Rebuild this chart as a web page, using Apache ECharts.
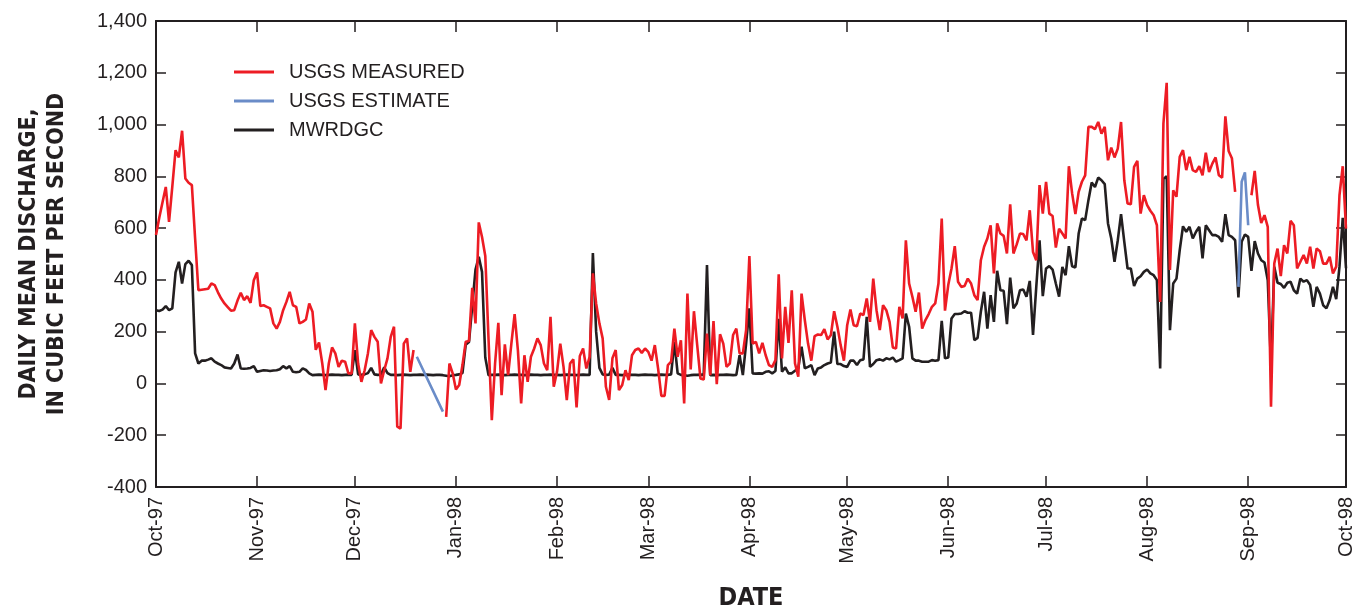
<!DOCTYPE html>
<html>
<head>
<meta charset="utf-8">
<script src="https://cdn.jsdelivr.net/npm/echarts@6/dist/echarts.min.js"></script>
<style>
html,body{margin:0;padding:0;background:#fff;}
#chart{width:1371px;height:611px;}
</style>
</head>
<body>
<div id="chart"></div>
<script>
// Tick labels (first day of each month, Oct-97 .. Oct-98)
const monthLabels = ['Oct-97','Nov-97','Dec-97','Jan-98','Feb-98','Mar-98','Apr-98','May-98','Jun-98','Jul-98','Aug-98','Sep-98','Oct-98'];
const yTicks = [-400,-200,0,200,400,600,800,1000,1200,1400];

// USGS MEASURED, daily mean discharge (cfs), one value per day from 1 Oct 1997
const usgsMeasured = [
  // Oct-97
  573,640,700,759,624,760,901,873,976,792, 775,766,560,360,362,364,366,386,380,352, 328,309,295,281,283,320,350,322,337,311, 399,
  // Nov-97
  429,299,302,296,290,232,212,238,283,315, 354,302,296,232,238,247,309,277,130,158, 77,-26,77,139,116,64,88,84,39,39,
  // Dec-97
  232,77,6,51,116,206,180,161,0,51, 97,180,219,-167,-174,154,174,45,129,null, null,null,null,null,null,null,null,null,-129,77, 39,
  // Jan-98
  -23,-6,71,161,164,369,232,622,566,492, 170,-142,77,234,-45,151,32,154,268,129, -77,109,6,103,135,174,148,77,51,257, -13,
  // Feb-98
  45,154,64,-64,77,93,-93,106,135,58, 103,425,309,232,174,-13,-64,97,129,-26, -6,51,13,109,129,135,118,135,
  // Mar-98
  122,88,148,58,-48,-48,71,84,212,103, 167,-77,347,54,279,148,19,15,193,32, 241,-3,190,154,64,77,187,212,116,116, 206,
  // Apr-98
  492,154,161,116,157,109,71,64,90,422, 97,296,157,360,77,26,347,245,154,88, 183,189,187,210,170,187,279,219,148,88,
  // May-98
  225,286,225,221,270,264,328,238,405,283, 206,302,283,238,139,135,296,251,553,386, 335,277,351,212,245,268,296,309,386,637, 281,
  // Jun-98
  380,444,530,393,373,376,405,386,341,322, 476,528,560,611,425,618,579,570,502,692, 502,537,579,577,553,669,508,476,766,656,
  // Jul-98
  779,656,647,525,598,579,560,839,734,654, 740,779,804,991,991,982,1010,965,991,862, 911,873,907,1010,785,695,692,837,860,656, 727,
  // Aug-98
  689,667,650,611,315,1004,1161,438,746,721, 875,901,824,875,824,817,839,804,891,817, 849,873,804,795,1032,898,870,740,null,null, null,
  // Sep-98
  null,727,821,689,620,650,605,-90,463,521, 415,534,502,628,611,444,470,496,463,528, 444,521,511,463,463,489,425,451,727,839,
  // Oct-98
  598
];

// MWRDGC, daily mean discharge (cfs)
const mwrdgc = [
  // Oct-97
  283,280,285,299,283,290,429,470,386,461, 474,457,116,77,88,88,92,97,84,77, 71,62,60,58,77,112,58,57,58,60, 67,
  // Nov-97
  45,48,51,50,48,50,51,55,67,58, 67,45,43,45,58,52,39,32,33,34, 33,32,33,34,33,33,32,33,34,33,
  // Dec-97
  129,35,33,35,40,60,35,33,34,62, 40,33,33,32,33,34,33,32,33,33, 34,33,34,33,32,33,33,32,30,28, 32,
  // Jan-98
  33,35,40,150,160,300,440,489,431,100, 32,33,33,34,33,32,33,33,34,33, 33,32,33,34,33,33,32,33,33,34, 33,
  // Feb-98
  33,32,33,34,33,33,32,33,34,33, 33,504,200,60,35,33,34,60,33,33, 32,33,34,33,33,32,33,34,
  // Mar-98
  33,33,32,33,34,33,33,35,161,39, 33,32,30,32,33,33,34,33,457,32, 33,32,33,33,34,33,32,33,109,32, 154,
  // Apr-98
  290,39,38,39,38,45,47,39,48,250, 45,62,39,39,49,58,142,58,64,71, 32,58,62,71,77,81,200,75,75,67,
  // May-98
  64,88,88,71,90,93,257,64,75,90, 93,88,97,93,100,84,90,97,270,219, 97,88,88,84,84,84,90,88,90,242, 97,
  // Jun-98
  100,251,268,268,270,279,273,273,167,176, 277,354,212,341,238,435,360,358,229,409, 290,309,360,363,335,396,187,373,553,337,
  // Jul-98
  444,453,440,386,335,450,418,530,453,448, 579,637,631,708,776,759,795,785,770,618, 560,470,553,654,547,444,444,376,405,414, 431,
  // Aug-98
  440,425,418,399,58,790,800,206,386,405, 515,607,586,605,560,586,605,483,611,592, 573,573,566,547,654,573,566,553,332,547, 575,
  // Sep-98
  566,435,550,502,476,467,399,67,451,389, 384,369,389,393,360,347,405,393,399,380, 296,373,347,302,290,322,373,326,451,640,
  // Oct-98
  445
];

// USGS ESTIMATE (two short periods): day offsets from 1 Oct 1997 and values
const estimateDaysDec = [80, 88];
const estimateDec = [103, -109];
const estimateDaysSep = [332, 333, 334, 335];
const estimateSep = [373, 779, 815, 611];

// ---- build ----
const startMs = Date.UTC(1997, 9, 1);
const monthDays = monthLabels.map((_, m) => Math.round((Date.UTC(1997, 9 + m, 1) - startMs) / 86400000));
const lastDay = monthDays[monthDays.length - 1];

const measuredData = usgsMeasured.map((v, d) => [d, v]);
const mwrdgcData = mwrdgc.map((v, d) => [d, v]);
const estimateData = estimateDaysDec.map((d, i) => [d, estimateDec[i]])
  .concat([[200, null]])
  .concat(estimateDaysSep.map((d, i) => [d, estimateSep[i]]));

const INK = '#231f20';
const FONT = "'Liberation Sans', Arial, sans-serif";
const NARROW = "'Liberation Sans Narrow', 'DejaVu Sans Condensed', 'Liberation Sans', sans-serif";

const chart = echarts.init(document.getElementById('chart'), null, {renderer: 'canvas'});

const xBase = {
  type: 'value', min: 0, max: lastDay,
  splitLine: {show: false},
  axisLine: {show: true, onZero: false, lineStyle: {color: INK, width: 2}},
  axisTick: {show: true, inside: true, length: 11, customValues: monthDays, lineStyle: {color: INK, width: 1.5}},
};
const yBase = {
  type: 'value', min: -400, max: 1400, interval: 200,
  splitLine: {show: false},
  axisLine: {show: true, onZero: false, lineStyle: {color: INK, width: 2}},
  axisTick: {show: true, inside: true, length: 10, lineStyle: {color: INK, width: 1.5}},
};

chart.setOption({
  animation: false,
  backgroundColor: '#fff',
  grid: {left: 156, right: 25, top: 21, bottom: 124, containLabel: false, outerBoundsMode: 'none'},
  legend: {
    orient: 'vertical', left: 234, top: 62, padding: 0,
    icon: 'rect', itemWidth: 40, itemHeight: 3, itemGap: 9,
    data: ['USGS MEASURED', 'USGS ESTIMATE', 'MWRDGC'],
    textStyle: {fontFamily: FONT, fontSize: 20, color: INK, lineHeight: 20, padding: [0, 0, 0, 10]}
  },
  xAxis: [
    Object.assign({}, xBase, {
      position: 'bottom',
      name: 'DATE', nameLocation: 'middle', nameGap: 99,
      nameTextStyle: {fontFamily: NARROW, fontWeight: 'bold', fontSize: 25, color: INK},
      axisLabel: {
        show: true, rotate: 90, margin: 10, customValues: monthDays,
        fontFamily: FONT, fontSize: 20, color: INK,
        formatter: v => monthLabels[monthDays.indexOf(Math.round(v))] || ''
      }
    }),
    Object.assign({}, xBase, {position: 'top', axisLabel: {show: false}})
  ],
  yAxis: [
    Object.assign({}, yBase, {
      position: 'left',
      name: 'DAILY MEAN DISCHARGE,\nIN CUBIC FEET PER SECOND',
      nameLocation: 'middle', nameRotate: 90, nameGap: 85,
      nameTextStyle: {fontFamily: NARROW, fontWeight: 'bold', fontSize: 23, lineHeight: 28, color: INK, align: 'center'},
      axisLabel: {
        margin: 9, fontFamily: FONT, fontSize: 20, color: INK,
        customValues: yTicks,
        formatter: v => v.toLocaleString('en-US')
      }
    }),
    Object.assign({}, yBase, {position: 'right', axisLabel: {show: false}})
  ],
  series: [
    {
      name: 'MWRDGC', type: 'line', data: mwrdgcData, xAxisIndex: 0, yAxisIndex: 0,
      showSymbol: false, symbol: 'none', z: 2,
      lineStyle: {color: INK, width: 2.6}, itemStyle: {color: INK}
    },
    {
      name: 'USGS MEASURED', type: 'line', data: measuredData, xAxisIndex: 0, yAxisIndex: 0,
      showSymbol: false, symbol: 'none', connectNulls: false, z: 3,
      lineStyle: {color: '#ed1c24', width: 2.6}, itemStyle: {color: '#ed1c24'}
    },
    {
      name: 'USGS ESTIMATE', type: 'line', data: estimateData, xAxisIndex: 0, yAxisIndex: 0,
      showSymbol: false, symbol: 'none', connectNulls: false, z: 4,
      lineStyle: {color: '#6a8cc8', width: 2.6}, itemStyle: {color: '#6a8cc8'}
    }
  ]
});
</script>
</body>
</html>
